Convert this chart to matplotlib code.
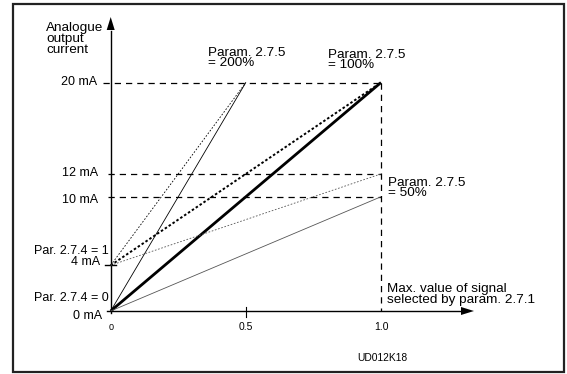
import matplotlib
matplotlib.use("Agg")
import matplotlib.pyplot as plt
from matplotlib.patches import Rectangle

plt.rcParams['font.family'] = ['Liberation Sans', 'DejaVu Sans']

# ---- data ----
gains = ["200%", "100%", "50%"]
signal_end = [0.5, 1.0, 1.0]          # signal value where each line ends
out_end_offset0 = [20, 20, 10]        # mA at end, Par. 2.7.4 = 0 (0 mA start)
out_end_offset1 = [20, 20, 12]        # mA at end, Par. 2.7.4 = 1 (4 mA start)
start_offset0 = 0
start_offset1 = 4
ref_levels = [20, 12, 10]             # dashed reference levels (mA)
ytick_vals = [0, 4, 10, 12, 20]
ytick_labels = ["0 mA", "4 mA", "10 mA", "12 mA", "20 mA"]
xtick_vals = [0, 0.5, 1.0]
xtick_labels = ["0", "0.5", "1.0"]

W, H = 567, 374
fig = plt.figure(figsize=(W / 100, H / 100), dpi=100)
ax = fig.add_axes([0, 0, 1, 1])
ax.set_axis_off()

# pixel mapping (origin and scale of the schematic)
x0px, x1px = 110.7, 381.0
y0px, y20px = 311.0, 82.5
sx = x1px - x0px
sy = (y0px - y20px) / 20.0
ax.set_xlim(-x0px / sx, (W - x0px) / sx)
ax.set_ylim(-(H - y0px) / sy, y0px / sy)


def P(px, py):
    return ((px - x0px) / sx, (y0px - py) / sy)


# frame
fx0, fy0 = P(12.5, 372)
fx1, fy1 = P(564, 4.5)
ax.add_patch(Rectangle((fx0, fy0), fx1 - fx0, fy1 - fy0, fill=False,
                       edgecolor="#222222", linewidth=1.6, zorder=1))

# axes with arrows
ytop = P(0, 17)[1]
xright = P(474, 0)[0]
ax.plot([0, 0], [P(0, 313)[1], ytop - 1.2], color="black", lw=1.0, zorder=3)
ax.plot([0, xright - 0.04], [0, 0], color="black", lw=1.0, zorder=3)
ax.fill([0, -4 / sx, 4 / sx], [ytop, ytop - 13 / sy, ytop - 13 / sy],
        color="black", zorder=4, lw=0)
ax.fill([xright, xright - 13 / sx, xright - 13 / sx], [0, 4 / sy, -4 / sy],
        color="black", zorder=4, lw=0)

# ticks
ax.plot([-3.5 / sx, 0], [0, 0], color="black", lw=1.0)
ax.plot([-6 / sx, 5 / sx], [start_offset1, start_offset1], color="black", lw=1.0)
ax.plot([0.5, 0.5], [-5.5 / sy, 4 / sy], color="black", lw=0.8)

# dashed reference lines
dash = (0, (5, 4))
for lev in ref_levels:
    xs = -8 / sx if lev == 20 else -3 / sx
    ax.plot([xs, 1.0], [lev, lev], color="black", lw=0.9, linestyle=dash)
ax.plot([1.0, 1.0], [20, 0], color="black", lw=0.9, linestyle=dash)

# characteristic lines, Par. 2.7.4 = 0
styles0 = [dict(color="black", lw=0.6),
           dict(color="black", lw=2.0),
           dict(color="#555555", lw=0.6)]
for xe, ye, st in zip(signal_end, out_end_offset0, styles0):
    ax.plot([0, xe], [start_offset0, ye], solid_capstyle="butt", zorder=3, **st)

# characteristic lines, Par. 2.7.4 = 1
styles1 = [dict(color="black", lw=0.6, linestyle=(0, (2, 2))),
           dict(color="black", lw=1.4, linestyle=(0, (1.3, 1.1))),
           dict(color="#555555", lw=0.6, linestyle=(0, (2, 2)))]
for xe, ye, st in zip(signal_end, out_end_offset1, styles1):
    ax.plot([0, xe], [start_offset1, ye], zorder=3, **st)

fs = 9.7      # annotation text
fs_y = 9.0    # y-axis labels
fs_t = 7.5    # x tick labels
ls = 0.88

# y labels
ypos = {0: 316, 4: 262, 10: 200, 12: 173, 20: 82}
xend = {0: 102, 4: 100, 10: 98, 12: 98, 20: 97}
for v, lab in zip(ytick_vals, ytick_labels):
    ax.text(P(xend[v], 0)[0], P(0, ypos[v])[1], lab,
            ha="right", va="center", fontsize=fs_y)
ax.text(*P(109, 251), "Par. 2.7.4 = 1", ha="right", va="center", fontsize=fs_y)
ax.text(*P(109, 298), "Par. 2.7.4 = 0", ha="right", va="center", fontsize=fs_y)

# x labels
for v, lab in zip(xtick_vals, xtick_labels):
    ax.text(v, P(0, 327.5)[1], lab, ha="center", va="center",
            fontsize=fs_t - 1.0 if v == 0 else fs_t)

ax.text(*P(46, 22.5), "Analogue\noutput\ncurrent", ha="left", va="top",
        fontsize=fs, linespacing=ls)
ax.text(*P(207.5, 46.5), "Param. 2.7.5\n= " + gains[0], ha="left", va="top",
        fontsize=fs, linespacing=ls)
ax.text(*P(327.5, 48.5), "Param. 2.7.5\n= " + gains[1], ha="left", va="top",
        fontsize=fs, linespacing=ls)
ax.text(*P(388, 176.5), "Param. 2.7.5\n= " + gains[2], ha="left", va="top",
        fontsize=fs, linespacing=ls)
ax.text(*P(387, 283), "Max. value of signal\nselected by param. 2.7.1",
        ha="left", va="top", fontsize=fs, linespacing=ls)
ax.text(*P(357, 358), "UD012K18", ha="left", va="center", fontsize=7.4)

fig.savefig("out.png", dpi=100)
